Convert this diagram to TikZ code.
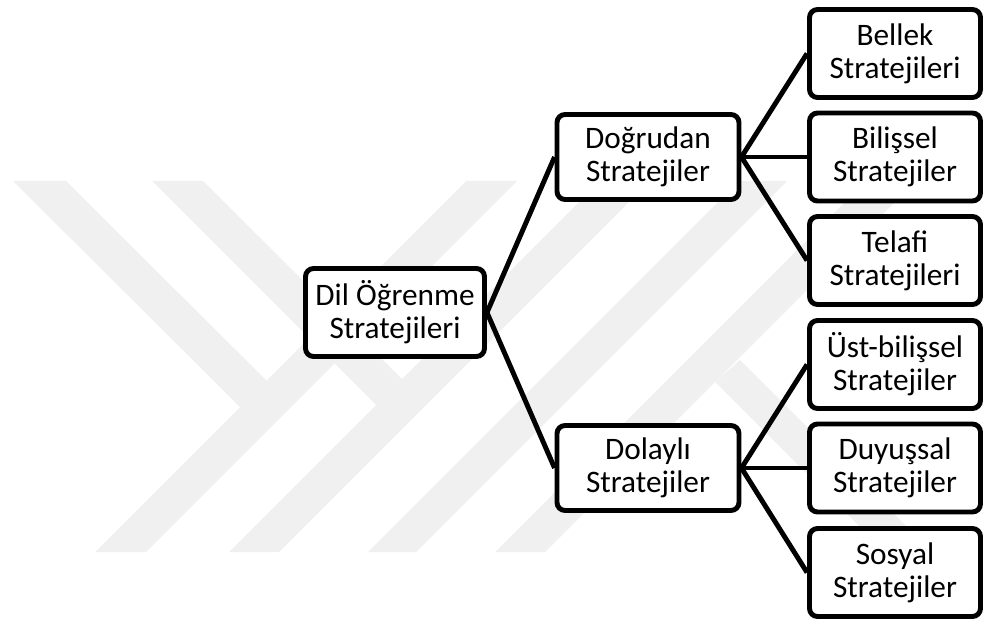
\documentclass[tikz,border=0pt]{standalone}
\usepackage{fontspec}
\setmainfont{Carlito}
\usetikzlibrary{positioning}

\begin{document}
\begin{tikzpicture}[
      font=\fontsize{8.9pt}{9.4pt}\selectfont,
      box/.style={draw, line width=1.4pt, rounded corners=2.3pt, fill=white, align=center, inner sep=0pt, minimum height=8.8mm},
      mid/.style={box, minimum width=18.2mm, minimum height=8.5mm},
      leaf/.style={box, minimum width=17.1mm},
      ln/.style={line width=1.4pt},
      wm/.style={fill=black!6, draw=none}
    ]
    \useasboundingbox (0,0) rectangle (9.84,6.23);

    % ===== watermark (background) =====
    \fill[wm] (0.95,0.71) -- (1.46,0.71) -- (5.17,4.42) -- (4.66,4.42) -- cycle;
    \fill[wm] (2.29,0.71) -- (2.79,0.71) -- (6.50,4.42) -- (6.00,4.42) -- cycle;
    \fill[wm] (3.68,0.71) -- (4.16,0.71) -- (7.87,4.42) -- (7.39,4.42) -- cycle;
    \fill[wm] (4.95,0.71) -- (5.45,0.71) -- (9.16,4.42) -- (8.66,4.42) -- cycle;
    \fill[wm] (0.13,4.42) -- (0.66,4.42) -- (2.92,2.17) -- (2.40,2.16) -- cycle;
    \fill[wm] (1.52,4.42) -- (2.03,4.42) -- (4.27,2.19) -- (3.76,2.18) -- cycle;
    \fill[wm] (7.15,2.41) -- (7.40,2.63) -- (9.32,0.71) -- (8.85,0.71) -- cycle;

    % ===== root and second level =====
    \node[box, minimum width=17.9mm] (dil) at (3.95,3.105) {Dil Öğrenme\\Stratejileri};
    \node[mid] (dog) at (6.48,4.66) {Doğrudan\\Stratejiler};
    \node[mid] (dol) at (6.48,1.55) {Dolaylı\\Stratejiler};

    % ===== leaves =====
    \node[leaf] (bel) at (8.95,5.695) {Bellek\\Stratejileri};
    \node[leaf] (bil) at (8.95,4.66)  {Bilişsel\\Stratejiler};
    \node[leaf] (tel) at (8.95,3.625) {Telafi\\Stratejileri};
    \node[leaf] (ust) at (8.95,2.585) {Üst-bilişsel\\Stratejiler};
    \node[leaf] (duy) at (8.95,1.55)  {Duyuşsal\\Stratejiler};
    \node[leaf] (sos) at (8.95,0.505) {Sosyal\\Stratejiler};

    % ===== connectors =====
    \draw[ln] (dil.east) -- (dog.west);
    \draw[ln] (dil.east) -- (dol.west);
    \draw[ln] (dog.east) -- (bel.west);
    \draw[ln] (dog.east) -- (bil.west);
    \draw[ln] (dog.east) -- (tel.west);
    \draw[ln] (dol.east) -- (ust.west);
    \draw[ln] (dol.east) -- (duy.west);
    \draw[ln] (dol.east) -- (sos.west);
    \end{tikzpicture}
\end{document}
